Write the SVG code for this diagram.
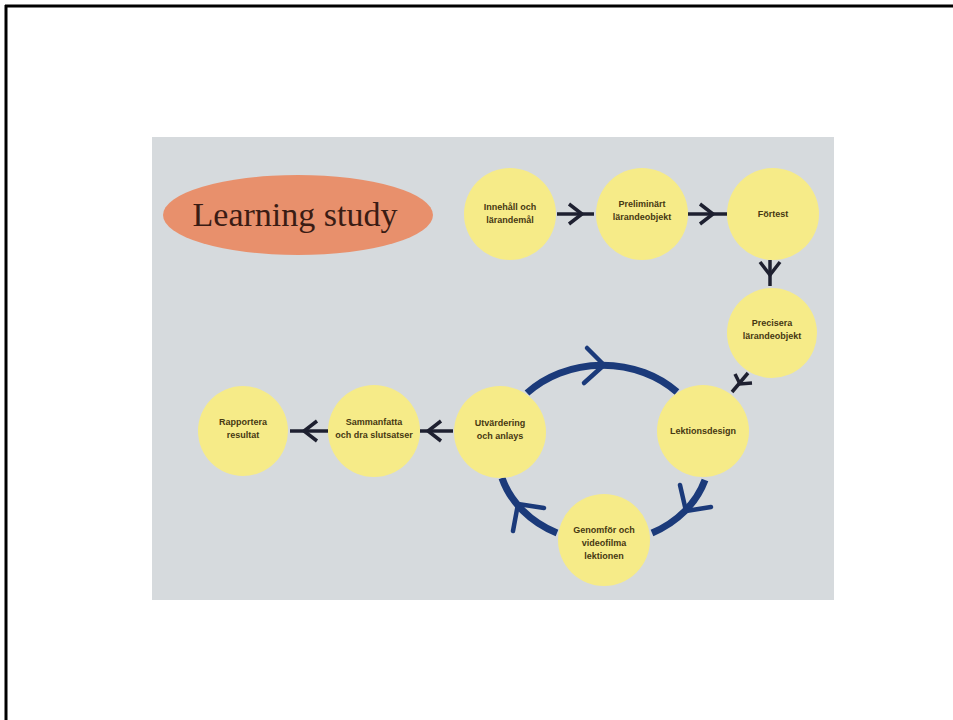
<svg xmlns="http://www.w3.org/2000/svg" width="953" height="720" viewBox="0 0 953 720">
  <style>
    .node circle { fill: #f6eb88; }
    .node text { font-family: "Liberation Sans", Arial, sans-serif; font-weight: bold; font-size: 9px; fill: #463812; text-anchor: middle; }
    .link { stroke: #1e2030; stroke-width: 3.5; fill: none; stroke-linecap: butt; }
    .cycle { stroke: #1b3a7a; stroke-width: 7; fill: none; stroke-linecap: butt; }
    .cyclehead { stroke: #1b3a7a; stroke-width: 4.5; fill: none; stroke-linecap: round; stroke-linejoin: round; }
  </style>

  <!-- page frame -->
  <rect x="0" y="0" width="953" height="720" fill="#ffffff"/>
  <line x1="5" y1="6" x2="953" y2="6" stroke="#000" stroke-width="3"/>
  <line x1="6" y1="5" x2="6" y2="720" stroke="#000" stroke-width="3"/>

  <!-- panel -->
  <rect x="152" y="137" width="682" height="463" fill="#d6dadd"/>

  <!-- title -->
  <g id="title">
    <ellipse cx="298" cy="215" rx="135" ry="40" fill="#e8906c"/>
    <text x="295" y="226" font-family="'Liberation Serif', 'Times New Roman', serif" font-size="34" fill="#3a1c14" text-anchor="middle">Learning study</text>
  </g>

  <!-- connectors -->
  <g id="connectors">
    <!-- straight links -->
    <line class="link" x1="557" y1="214" x2="594" y2="214"/>
    <polyline class="link" points="569,204 582,214 569,224"/>

    <line class="link" x1="688" y1="214" x2="727" y2="214"/>
    <polyline class="link" points="700,204 713,214 700,224"/>

    <line class="link" x1="770" y1="260" x2="770" y2="286"/>
    <polyline class="link" points="760,262 770,275 780,262"/>

    <line class="link" x1="748" y1="373" x2="732" y2="392"/>
    <polyline class="link" points="735,374 740,384 752,383"/>

    <line class="link" x1="453" y1="431" x2="420" y2="431"/>
    <polyline class="link" points="441,421 428,431 441,441"/>

    <line class="link" x1="328" y1="431" x2="290" y2="431"/>
    <polyline class="link" points="317,421 304,431 317,441"/>

    <!-- improvement cycle -->
    <path class="cycle" d="M 527 393 A 104 89 0 0 1 677 392"/>
    <path class="cycle" d="M 705 480 A 104 89 0 0 1 652 533"/>
    <path class="cycle" d="M 557 533 A 104 89 0 0 1 502 478"/>

    <polyline class="cyclehead" points="587,348 604,365 584,383"/>
    <polyline class="cyclehead" points="680,485 686,511 711,507"/>
    <polyline class="cyclehead" points="544,508 518,504 513,531"/>
  </g>

  <!-- nodes -->
  <g id="innehall" class="node">
    <circle cx="510" cy="214" r="46"/>
    <text x="510" y="210">Innehåll och</text>
    <text x="510" y="223">lärandemål</text>
  </g>
  <g id="preliminart" class="node">
    <circle cx="642" cy="214" r="46"/>
    <text x="642" y="207">Preliminärt</text>
    <text x="642" y="220">lärandeobjekt</text>
  </g>
  <g id="fortest" class="node">
    <circle cx="773" cy="214" r="46"/>
    <text x="773" y="217">Förtest</text>
  </g>
  <g id="precisera" class="node">
    <circle cx="772" cy="333" r="45"/>
    <text x="772" y="326">Precisera</text>
    <text x="772" y="339">lärandeobjekt</text>
  </g>
  <g id="lektionsdesign" class="node">
    <circle cx="703" cy="431" r="46"/>
    <text x="703" y="434">Lektionsdesign</text>
  </g>
  <g id="genomfor" class="node">
    <circle cx="604" cy="540" r="46"/>
    <text x="604" y="533">Genomför och</text>
    <text x="604" y="546">videofilma</text>
    <text x="604" y="559">lektionen</text>
  </g>
  <g id="utvardering" class="node">
    <circle cx="500" cy="432" r="46"/>
    <text x="500" y="426">Utvärdering</text>
    <text x="500" y="439">och anlays</text>
  </g>
  <g id="sammanfatta" class="node">
    <circle cx="374" cy="431" r="46"/>
    <text x="374" y="425">Sammanfatta</text>
    <text x="374" y="438">och dra slutsatser</text>
  </g>
  <g id="rapportera" class="node">
    <circle cx="243" cy="431" r="45"/>
    <text x="243" y="425">Rapportera</text>
    <text x="243" y="438">resultat</text>
  </g>
</svg>
